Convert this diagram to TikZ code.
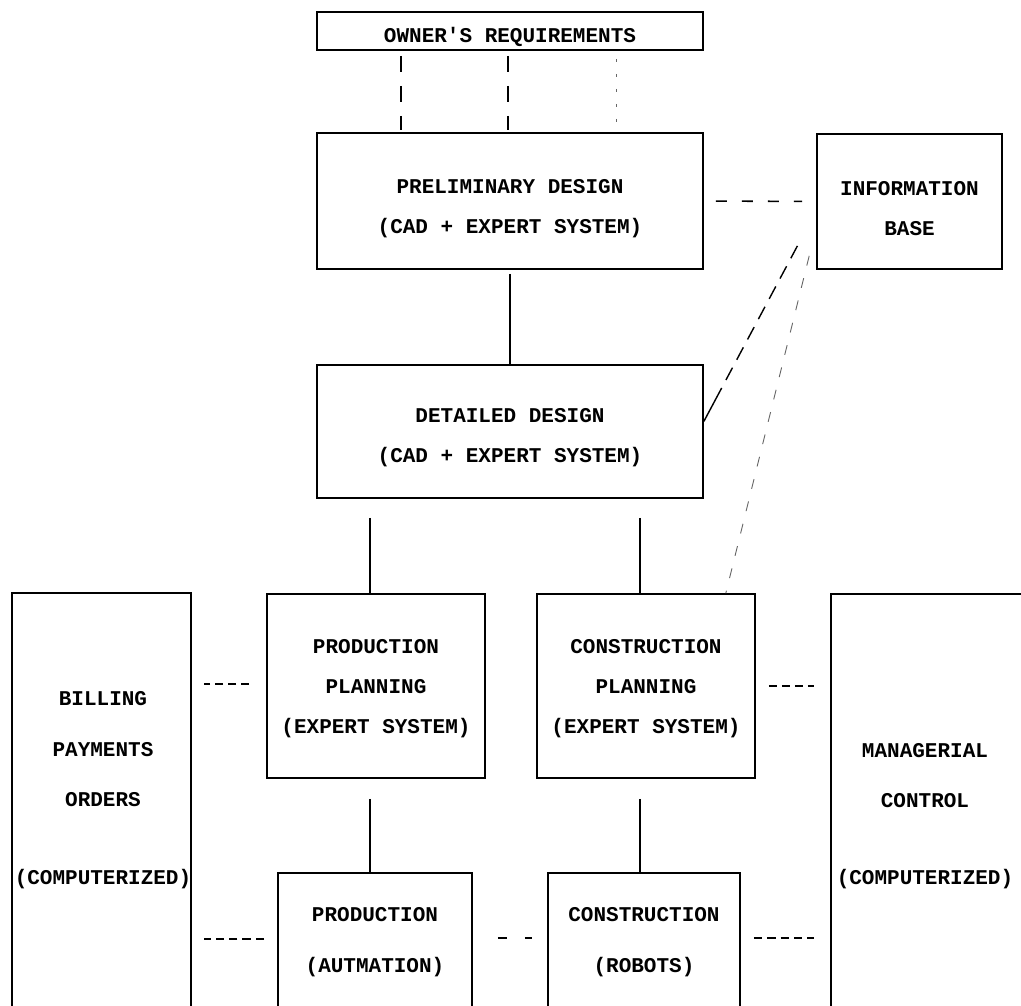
\documentclass[tikz,border=0pt]{standalone}
\usepackage{fontspec}
\setmonofont{Liberation Mono}
\begin{document}
\begin{tikzpicture}
[x=1pt,y=-1pt,
  boxDecorate/.style={shape=rectangle,draw,line width=1.6pt,inner sep=0pt},
  textDecorate/.style={align=center,font=\ttfamily\bfseries\fontsize{21}{40}\selectfont},
  lineDecorate/.style={-,line width=1.4pt},
  longDash/.style={-,line width=1.6pt,dash pattern=on 11pt off 15pt},
  shortDash/.style={-,line width=1.6pt,dash pattern=on 8pt off 5pt},
  faintDash/.style={-,line width=0.9pt,draw=black!60,dash pattern=on 10pt off 13pt}]
\useasboundingbox (0,0) rectangle (1021,1005);
%% boxes
\foreach \nodename/\x/\y/\w/\h in {
  owner/510/31/386/38, prelim/510/201/386/136, info/909.5/201.5/185/135,
  detailed/510/431.5/386/133, billing/101.5/804/179/422,
  pplan/376/686/218/184, cplan/646/686/218/184, manager/929.5/804.5/197/421,
  prod/375/944/194/142, cons/644/944/192/142}
{
  \node (\nodename) at (\x,\y) [boxDecorate,minimum width=\w pt,minimum height=\h pt] {};
}
%% texts
\foreach \nodename/\x/\y/\txt in {
  owner/510/37/{OWNER'S REQUIREMENTS},
  prelim/510/208.5/{PRELIMINARY DESIGN\\(CAD + EXPERT SYSTEM)},
  info/909.5/208.5/{INFORMATION\\BASE},
  detailed/510/438/{DETAILED DESIGN\\(CAD + EXPERT SYSTEM)},
  pplan/376/688.5/{PRODUCTION\\PLANNING\\(EXPERT SYSTEM)},
  cplan/646/688.5/{CONSTRUCTION\\PLANNING\\(EXPERT SYSTEM)},
  prod/375/942.5/{PRODUCTION\\[11pt](AUTMATION)},
  cons/644/942.5/{CONSTRUCTION\\[11pt](ROBOTS)},
  billing/103/790.5/{BILLING\\[11pt]PAYMENTS\\[10pt]ORDERS\\[38pt](COMPUTERIZED)},
  manager/925/816.5/{MANAGERIAL\\[10pt]CONTROL\\[37pt](COMPUTERIZED)}}
{
  \node (\nodename-t) at (\x,\y) [textDecorate] {\txt};
}
%% solid links
\draw[lineDecorate,shorten <=4pt] (prelim.south) -- (detailed.north);
\foreach \lownode in {pplan,cplan}
{
  \draw[lineDecorate,shorten <=19pt] ([xshift=-6pt]\lownode.north |- detailed.south) -- ([xshift=-6pt]\lownode.north);
}
\foreach \topnode/\lownode in {pplan/prod, cplan/cons}
{
  \draw[lineDecorate,shorten <=20pt] ([xshift=-6pt]\topnode.south) -- ([xshift=-6pt]\topnode.south |- \lownode.north);
}
%% dashed links
\foreach \dx in {-109,-2}
{
  \draw[lineDecorate,dash pattern=on 16pt off 14pt,shorten <=5pt,shorten >=2pt]
    ([xshift=\dx pt]owner.south) -- ([xshift=\dx pt]prelim.north);
}
\draw[faintDash,dash pattern=on 3pt off 12pt,shorten <=8pt,shorten >=4pt]
  ([xshift=106pt]owner.south) -- ([xshift=106pt]prelim.north);
\draw[longDash,shorten <=12pt,shorten >=14pt] (prelim.east) -- (info.west);
\draw[shortDash,shorten <=17pt,shorten >=12pt] ([yshift=2pt]pplan.west) -- ([yshift=2pt]pplan.west -| billing.east);
\draw[shortDash,dash pattern=on 8.4pt off 5pt,shorten <=13pt,shorten >=12pt] ([yshift=5pt]prod.west) -- ([yshift=5pt]prod.west -| billing.east);
\draw[shortDash,shorten <=13pt,shorten >=16pt] (cplan.east) -- (cplan.east -| manager.west);
\draw[shortDash,dash pattern=on 8.4pt off 5pt,shorten <=13pt,shorten >=16pt] ([yshift=6pt]cons.east) -- ([yshift=6pt]cons.east -| manager.west);
\draw[shortDash,dash pattern=on 9pt off 18pt,shorten <=25pt,shorten >=15pt] ([yshift=6pt]prod.east) -- ([yshift=6pt]prod.east -| cons.west);
%% links to the information base
\draw[lineDecorate,dash pattern=on 38pt off 9pt on 14pt off 9pt on 14pt off 9pt on 14pt off 9pt on 14pt off 9pt on 14pt off 9pt on 14pt off 9pt on 14pt off 9pt]
  ([yshift=10pt]detailed.east) -- ([xshift=-15pt,yshift=31pt]info.south west);
\draw[faintDash] ([xshift=-7pt,yshift=14pt]info.south west) -- ([xshift=-30pt]cplan.north east);
\end{tikzpicture}
\end{document}
